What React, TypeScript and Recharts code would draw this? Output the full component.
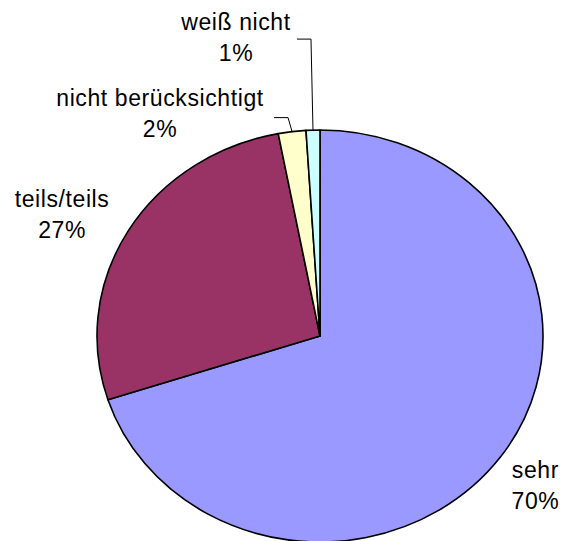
import React from 'react';
import { PieChart, Pie, Cell } from 'recharts';

const categories = ['sehr', 'teils/teils', 'nicht berücksichtigt', 'weiß nicht'];
const shares = [70, 27, 2, 1];
const percentLabels = ['70%', '27%', '2%', '1%'];
const sliceColors = ['#9999FF', '#993366', '#FFFFCC', '#CCFFFF'];

const data = categories.map((name, i) => ({ name, value: shares[i] }));

const RAD = Math.PI / 180;
const CX = 320;
const CY = 336;
const RX = 223;
const RY = 206;
const FONT = '"Liberation Sans", Arial, sans-serif';

// label placement relative to the slice's rim point (first baseline, centred)
const labelShift: [number, number][] = [
  [35, 21],
  [-66, -24],
  [-132, -26],
  [-77, -100],
];
// leader lines for the thin slices: elbow and end, relative to the rim point
const leaders: ([number, number][] | null)[] = [
  null,
  null,
  [[-4, -14], [-18, -14]],
  [[-2, -91], [-16, -91]],
];

const rim = (cx: number, cy: number, r: number, a: number) => ({
  x: cx + r * Math.cos(a * RAD),
  y: cy - r * (RY / RX) * Math.sin(a * RAD),
});

// elliptical slice, the reference pie is wider than it is tall
const EllipseSlice = (props: any) => {
  const { cx, cy, outerRadius, startAngle, endAngle, fill } = props;
  const p0 = rim(cx, cy, outerRadius, startAngle);
  const p1 = rim(cx, cy, outerRadius, endAngle);
  const large = Math.abs(endAngle - startAngle) > 180 ? 1 : 0;
  const sweep = endAngle < startAngle ? 1 : 0;
  const ry = outerRadius * (RY / RX);
  const d = `M${cx},${cy} L${p0.x},${p0.y} A${outerRadius},${ry} 0 ${large} ${sweep} ${p1.x},${p1.y} Z`;
  return <path d={d} fill={fill} stroke="#000" strokeWidth={1.6} strokeLinejoin="round" />;
};

const renderLabel = (props: any) => {
  const { cx, cy, outerRadius, midAngle, index } = props;
  const p = rim(cx, cy, outerRadius, midAngle);
  const [dx, dy] = labelShift[index];
  const x = p.x + dx;
  const y = p.y + dy;
  const leader = leaders[index];
  return (
    <g key={`lbl-${index}`}>
      {leader && (
        <polyline
          points={[[p.x, p.y], ...leader.map(([lx, ly]) => [p.x + lx, p.y + ly])].map((q) => q.join(',')).join(' ')}
          fill="none"
          stroke="#000"
          strokeWidth={1}
        />
      )}
      <text x={x} y={y} textAnchor="middle" fontFamily={FONT} fontSize={23} letterSpacing={0.6} fill="#000">
        <tspan x={x} y={y}>{categories[index]}</tspan>
        <tspan x={x} y={y + 31}>{percentLabels[index]}</tspan>
      </text>
    </g>
  );
};

export default function App() {
  return (
    <div style={{ position: 'absolute', left: 0, top: 0, width: 562, height: 541, background: '#fff' }}>
      <PieChart width={562} height={541} margin={{ top: 0, right: 0, bottom: 0, left: 0 }}>
        <Pie
          data={data}
          dataKey="value"
          nameKey="name"
          cx={CX}
          cy={CY}
          outerRadius={RX}
          startAngle={90}
          endAngle={-270}
          shape={EllipseSlice}
          label={renderLabel}
          labelLine={false}
          isAnimationActive={false}
        >
          {data.map((d, i) => (
            <Cell key={d.name} fill={sliceColors[i]} />
          ))}
        </Pie>
      </PieChart>
    </div>
  );
}
